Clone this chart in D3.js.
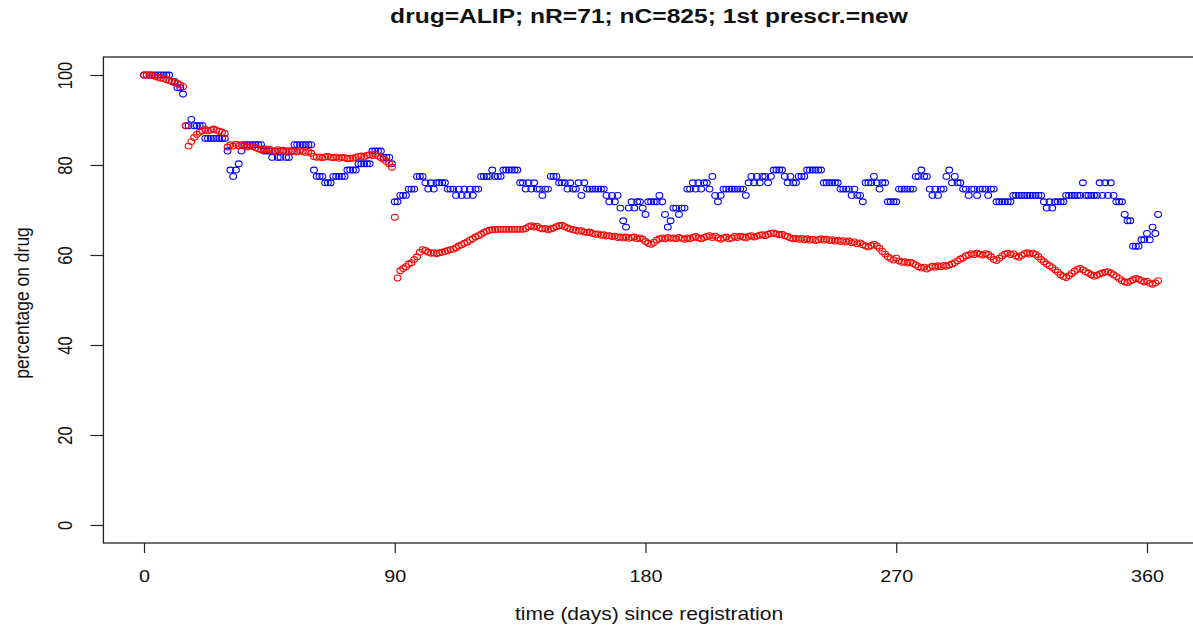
<!DOCTYPE html>
<html>
<head>
<meta charset="utf-8">
<script src="https://cdn.jsdelivr.net/npm/d3@7"></script>
<style>
  html, body { margin: 0; padding: 0; background: #fff; }
  svg { display: block; font-family: "Liberation Sans", Arial, sans-serif; }
</style>
</head>
<body>
<svg id="chart" width="1193" height="629"></svg>
<script>
// ---- data ----
const titleText = "drug=ALIP; nR=71; nC=825; 1st prescr.=new";
const xLabel = "time (days) since registration";
const yLabel = "percentage on drug";
const xTicks = [0, 90, 180, 270, 360];
const yTicks = [0, 20, 40, 60, 80, 100];
const nR = 71;

// blue series: number of the nR=71 patients still on drug, day 0..364
const blueOnDrug = [
  71,71,71,71,71,71,71,71,71,71,
  70,70,69,69,68,
  63,63,64,63,63,63,63,
  61,61,61,61,61,61,61,61,
  59,56,55,56,57,59,
  60,60,60,60,60,60,60,
  59,59,59,
  58,59,58,58,59,58,58,
  59,
  60,60,60,60,60,60,60,
  56,
  55,55,55,54,54,54,55,55,55,55,55,
  56,56,56,56,
  57,57,57,57,57,
  59,59,59,59,
  58,58,58,
  57,
  51,51,
  52,52,52,
  53,53,53,
  55,55,55,
  54,53,54,53,54,54,54,54,
  53,53,53,
  52,53,52,53,52,53,52,53,53,
  55,55,55,55,
  56,
  55,55,55,
  56,56,56,56,56,56,
  54,54,53,54,53,54,53,53,52,53,53,
  55,55,55,
  54,54,54,
  53,54,53,53,54,52,54,
  53,53,53,53,53,53,53,
  52,51,52,51,52,50,48,47,50,51,50,
  51,51,50,49,51,51,51,51,52,51,
  49,47,48,50,50,49,50,50,
  53,53,54,53,54,53,54,54,53,55,52,51,52,
  53,53,53,53,53,53,53,53,
  52,54,55,54,55,54,55,55,54,55,56,56,56,56,55,54,55,54,54,55,55,55,
  56,56,56,56,56,56,
  54,54,54,54,54,54,
  53,53,53,53,52,53,52,52,51,
  54,54,54,55,54,53,54,54,
  51,51,51,51,
  53,53,53,53,53,53,
  55,55,56,55,55,53,52,53,52,53,53,
  55,56,54,55,54,54,
  53,53,52,53,53,52,53,53,53,52,53,53,
  51,51,51,51,51,51,
  52,52,52,52,52,52,52,52,52,52,52,
  51,50,51,50,51,51,51,51,
  52,52,52,52,52,52,54,52,52,52,52,52,54,52,54,52,54,52,
  51,51,51,49,48,48,44,44,44,45,45,46,45,47,46,49
];

// red series: percentage on drug (nC=825), day 0..364
const redPct = [
  100,100,100,99.9,99.7,99.5,99.3,99.2,99.0,98.8,98.6,98.3,98.1,97.8,97.4,
  88.7,84.2,85.2,86.1,86.8,87.3,87.6,87.9,87.6,87.8,88.0,87.7,87.5,87.3,87.0,
  84.0,84.5,84.2,84.6,84.3,84.5,84.2,84.0,84.3,84.1,83.9,83.6,83.4,83.6,83.3,83.5,
  83.2,83.0,83.4,83.1,83.3,83.0,83.2,83.0,83.1,82.9,83.2,83.0,82.8,83.0,82.6,
  81.9,81.7,81.8,81.6,81.8,81.9,81.7,81.6,81.8,81.5,81.7,81.6,81.4,81.5,
  81.5,81.7,81.9,82.0,81.8,82.1,82.3,82.1,82.4,82.0,81.6,81.3,
  80.8,80.3,79.5,
  68.4,54.9,
  56.5,57.0,57.4,58.0,58.3,59.0,59.6,60.6,61.2,61.0,60.6,60.4,60.5,60.3,60.5,60.6,
  60.8,61.0,61.2,61.3,61.6,62.0,62.3,62.6,62.9,63.3,63.6,64.0,64.3,64.6,65.0,
  65.3,65.5,65.6,65.6,65.7,65.7,65.7,65.7,65.7,65.7,65.7,65.7,65.7,65.7,
  65.9,66.3,66.5,66.2,66.4,66.0,65.8,65.9,65.6,65.8,66.0,66.3,66.5,66.6,66.3,66.0,
  65.8,65.6,65.5,65.3,65.4,65.1,65.0,65.1,64.8,64.6,64.7,64.4,64.5,64.2,64.3,64.1,
  64.2,63.9,64.0,63.8,64.0,63.7,63.9,64.0,63.6,63.8,63.5,
  63.0,62.6,62.4,62.8,63.3,63.6,63.8,63.6,63.9,63.7,63.8,63.6,63.9,63.7,63.5,63.8,
  63.6,63.9,64.1,63.8,63.6,63.9,64.1,64.3,63.9,64.2,63.8,63.5,63.8,64.0,63.6,63.8,
  64.1,63.9,64.2,64.0,63.8,64.1,64.3,64.0,64.2,64.4,64.5,64.3,64.6,64.8,64.9,64.7,
  64.5,64.6,64.3,64.1,
  63.8,63.6,63.7,63.5,63.7,63.4,63.6,63.3,63.5,63.2,63.4,63.6,63.3,63.5,63.2,63.4,
  63.1,63.3,63.0,63.2,62.9,63.1,62.7,62.9,62.5,62.7,62.3,62.0,61.8,62.1,62.4,62.0,61.5,
  60.8,60.2,59.6,59.2,58.9,59.3,58.7,58.4,58.5,58.2,58.4,58.1,57.8,57.4,57.1,57.3,
  56.9,57.2,57.5,57.3,57.6,57.4,57.7,57.5,57.8,58.0,58.3,58.7,59.1,59.4,59.8,60.0,60.3,
  60.1,60.4,60.2,60.0,60.3,60.1,59.6,59.0,58.8,59.3,59.8,60.2,60.4,60.1,60.3,59.8,
  59.5,59.9,60.3,60.5,60.2,60.4,60.1,59.6,59.0,58.5,58.0,57.6,57.2,56.7,56.2,55.6,55.2,55.0,
  55.4,55.9,56.4,56.8,57.0,56.7,56.3,56.0,55.6,55.3,55.5,55.8,56.0,56.2,56.3,56.0,
  55.6,55.2,54.8,54.3,54.0,53.9,54.2,54.5,54.8,54.6,54.3,54.0,54.2,53.7,53.5,53.8,54.3
];

// ---- drawing ----
const svg = d3.select("#chart");
const SX = 1.2; // horizontal stretch of the reference raster

const x = d3.scaleLinear().domain([0, 360]).range([144, 1147]);
const y = d3.scaleLinear().domain([0, 100]).range([525, 75]);

const nDays = Math.max(blueOnDrug.length, redPct.length);
const xMin = -0.04 * (nDays - 1), xMax = (nDays - 1) * 1.04;
const boxL = x(xMin), boxR = x(xMax), boxT = y(104), boxB = y(-4);

const blueData = blueOnDrug.map((k, i) => ({ day: i, v: k / nR * 100 }));
const redData = redPct.map((v, i) => ({ day: i, v }));

// points
function drawPoints(data, color) {
  svg.append("g").selectAll("ellipse").data(data).join("ellipse")
    .attr("cx", d => x(d.day))
    .attr("cy", d => y(d.v))
    .attr("rx", 3.4).attr("ry", 2.9)
    .attr("fill", "none")
    .attr("stroke", color)
    .attr("stroke-width", 1.1);
}
drawPoints(blueData, "#0000ff");
drawPoints(redData, "#ff0000");

// box
svg.append("rect")
  .attr("x", boxL).attr("y", boxT)
  .attr("width", boxR - boxL).attr("height", boxB - boxT)
  .attr("fill", "none").attr("stroke", "#222").attr("stroke-width", 1.3);

// x axis
const gx = svg.append("g").attr("transform", `translate(0,${boxB})`)
  .call(d3.axisBottom(x).tickValues(xTicks).tickSize(10).tickFormat(d3.format("d")));
gx.select(".domain").remove();
gx.selectAll(".tick line").attr("stroke", "#222").attr("stroke-width", 1.2);
gx.selectAll(".tick text")
  .attr("y", 0).attr("dy", 0)
  .attr("transform", `translate(0,39) scale(${SX},1)`)
  .attr("font-size", 16.5).attr("fill", "#111")
  .attr("font-family", "Liberation Sans, Arial, sans-serif");

// y axis
const gy = svg.append("g").attr("transform", `translate(${boxL},0)`)
  .call(d3.axisLeft(y).tickValues(yTicks).tickSize(13).tickFormat(d3.format("d")));
gy.select(".domain").remove();
gy.selectAll(".tick line").attr("stroke", "#222").attr("stroke-width", 1.2);
gy.selectAll(".tick text")
  .attr("x", 0).attr("dy", 0).attr("y", 0)
  .attr("text-anchor", "middle")
  .attr("transform", `translate(-31,0) rotate(-90) scale(1,${SX})`)
  .attr("font-size", 16.5).attr("fill", "#111")
  .attr("font-family", "Liberation Sans, Arial, sans-serif");

// title
svg.append("text")
  .attr("text-anchor", "middle")
  .attr("transform", `translate(649,23) scale(${SX},1)`)
  .attr("font-size", 20.5).attr("font-weight", "bold").attr("fill", "#111")
  .text(titleText);

// axis titles
svg.append("text")
  .attr("text-anchor", "middle")
  .attr("transform", `translate(649,620) scale(${SX},1)`)
  .attr("font-size", 17.5).attr("fill", "#111")
  .text(xLabel);

svg.append("text")
  .attr("text-anchor", "middle")
  .attr("transform", `translate(28.5,303) rotate(-90) scale(1,${SX})`)
  .attr("font-size", 17.5).attr("fill", "#111")
  .text(yLabel);
</script>
</body>
</html>
